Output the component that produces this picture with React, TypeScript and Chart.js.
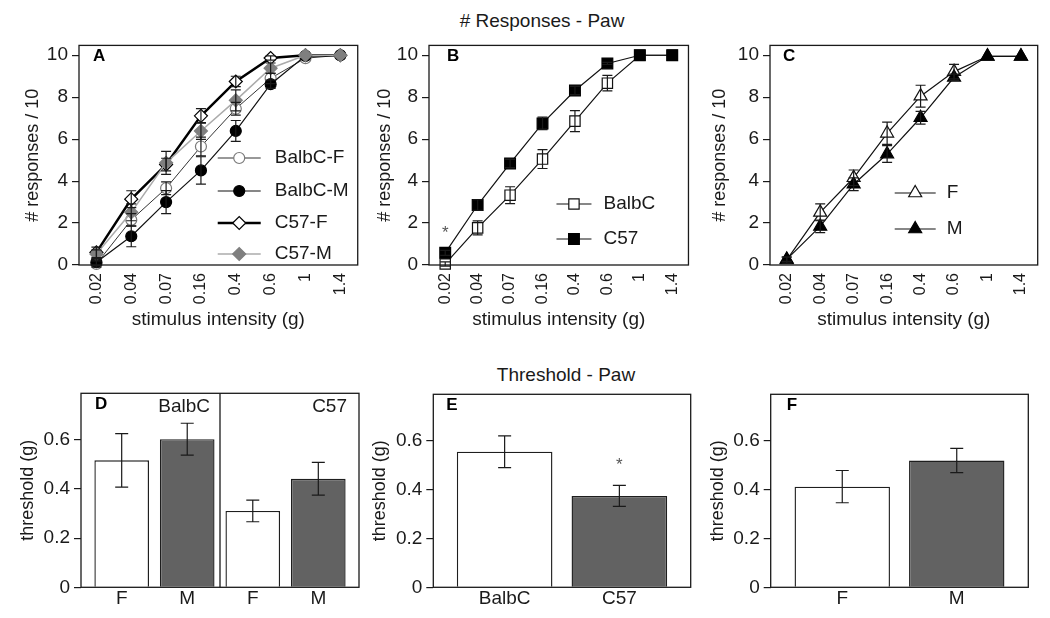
import React, { useEffect, useRef } from "react";
import { Chart, registerables } from "chart.js";
import { drawPoint } from "chart.js/helpers";

Chart.register(...registerables);

const FONT_FAMILY = '"Liberation Sans", Arial, Helvetica, sans-serif';
const INK = "#1a1a1a";
const BAR_GRAY = "#626262";
Chart.defaults.font.family = FONT_FAMILY;
Chart.defaults.color = INK;

// ---------------- data ----------------
const topTitle = "# Responses - Paw";
const bottomTitle = "Threshold - Paw";
const intensities = ["0.02", "0.04", "0.07", "0.16", "0.4", "0.6", "1", "1.4"];

// Panel A
const balbcF = [0.05, 2.15, 3.66, 5.65, 7.45, 8.9, 9.86, 10];
const balbcFErr = [0.15, 0.3, 0.3, 0.45, 0.3, 0.25, 0, 0];
const balbcM = [0.13, 1.37, 3.0, 4.51, 6.39, 8.62, 9.97, 10];
const balbcMErr = [0.15, 0.5, 0.55, 0.65, 0.5, 0.2, 0, 0];
const c57F = [0.6, 3.14, 4.79, 7.11, 8.75, 9.87, 10, 10];
const c57FErr = [0.25, 0.4, 0.3, 0.35, 0.25, 0.1, 0, 0];
const c57M = [0.52, 2.51, 4.87, 6.39, 7.85, 9.38, 10, 10];
const c57MErr = [0.2, 0.4, 0.55, 0.4, 0.5, 0.25, 0, 0];

// Panel B
const strainBalbC = [0.05, 1.77, 3.33, 5.05, 6.86, 8.67, 10, 10];
const strainBalbCErr = [0.1, 0.33, 0.4, 0.45, 0.5, 0.37, 0, 0];
const strainC57 = [0.58, 2.86, 4.84, 6.75, 8.32, 9.61, 10, 10];
const strainC57Err = [0.12, 0.25, 0.2, 0.3, 0.2, 0.05, 0, 0];
const starsB = [{ category: "0.02", value: 1.7 }];

// Panel C
const sexF = [0.24, 2.51, 4.16, 6.28, 8.05, 9.22, 9.95, 9.95];
const sexFErr = [0.15, 0.4, 0.37, 0.53, 0.52, 0.35, 0, 0];
const sexM = [0.27, 1.84, 3.85, 5.29, 7.02, 8.95, 9.95, 9.95];
const sexMErr = [0.1, 0.3, 0.3, 0.4, 0.3, 0.15, 0, 0];

// Panel D
const dCats = ["F", "M", "F", "M"];
const dGroups = ["BalbC", "C57"];
const dValues = [0.517, 0.603, 0.311, 0.442];
const dErr = [0.109, 0.065, 0.044, 0.067];

// Panel E
const eCats = ["BalbC", "C57"];
const eValues = [0.555, 0.374];
const eErr = [0.065, 0.043];
const starsE = [{ category: "C57", value: 0.514 }];

// Panel F
const fCats = ["F", "M"];
const fValues = [0.412, 0.519];
const fErr = [0.066, 0.05];

// R barplot midpoints (width 1, space 0.2)
const barMid = (i: number) => 0.7 + 1.2 * i;

// ---------------- plugins ----------------
const errorBarsPlugin = {
  id: "errorBars",
  afterDatasetsDraw(chart: any) {
    const { ctx } = chart;
    const yScale = chart.scales.y;
    chart.data.datasets.forEach((ds: any, di: number) => {
      if (!ds.errors) return;
      const meta = chart.getDatasetMeta(di);
      ctx.save();
      ctx.strokeStyle = ds.errorColor || "#111";
      ctx.lineWidth = ds.errorWidth || 1.2;
      const cap = ds.errorCap || 5;
      meta.data.forEach((el: any, i: number) => {
        const e = ds.errors[i];
        if (!e) return;
        const raw = ds.data[i];
        const v = typeof raw === "number" ? raw : raw.y;
        const x = el.x;
        const yt = yScale.getPixelForValue(v + e);
        const yb = yScale.getPixelForValue(v - e);
        ctx.beginPath();
        ctx.moveTo(x, yt);
        ctx.lineTo(x, yb);
        ctx.moveTo(x - cap, yt);
        ctx.lineTo(x + cap, yt);
        ctx.moveTo(x - cap, yb);
        ctx.lineTo(x + cap, yb);
        ctx.stroke();
      });
      ctx.restore();
    });
  },
};

type Decor = {
  letter: string;
  letterDx: number;
  legend?: { x1: number; x2: number; tx: number; rows: number[] };
  divider?: number;
  groupLabels?: { text: string; atValue?: number; gap: number }[];
  stars?: { x: number; y: number }[];
};

function makeDecor(d: Decor) {
  return {
    id: "decor",
    afterDraw(chart: any) {
      const { ctx, chartArea: ca } = chart;
      const xs = chart.scales.x;
      const ys = chart.scales.y;
      ctx.save();
      ctx.strokeStyle = INK;
      ctx.lineWidth = 1.3;
      if (d.divider !== undefined) {
        const px = xs.getPixelForValue(d.divider);
        ctx.beginPath();
        ctx.moveTo(px, ca.top);
        ctx.lineTo(px, ca.bottom);
        ctx.stroke();
      }
      ctx.strokeRect(ca.left, ca.top, ca.right - ca.left, ca.bottom - ca.top);

      ctx.fillStyle = "#000";
      ctx.font = `bold 17px ${FONT_FAMILY}`;
      ctx.textAlign = "left";
      ctx.textBaseline = "alphabetic";
      ctx.fillText(d.letter, ca.left + d.letterDx, ca.top + 15.5);

      ctx.font = `19px ${FONT_FAMILY}`;
      ctx.fillStyle = INK;
      (d.groupLabels || []).forEach((g) => {
        const xr = g.atValue !== undefined ? xs.getPixelForValue(g.atValue) : ca.right;
        ctx.textAlign = "right";
        ctx.textBaseline = "alphabetic";
        ctx.fillText(g.text, xr - g.gap, ca.top + 18.5);
      });

      (d.stars || []).forEach((s) => {
        ctx.font = `17px ${FONT_FAMILY}`;
        ctx.fillStyle = "#555";
        ctx.textAlign = "center";
        ctx.textBaseline = "middle";
        ctx.fillText("*", xs.getPixelForValue(s.x), ys.getPixelForValue(s.y) + 4);
      });

      if (d.legend) {
        const L = d.legend;
        chart.data.datasets.forEach((ds: any, i: number) => {
          const y = ca.bottom + L.rows[i];
          const x1 = ca.right + L.x1;
          const x2 = ca.right + L.x2;
          ctx.strokeStyle = ds.borderColor;
          ctx.lineWidth = ds.borderWidth;
          ctx.beginPath();
          ctx.moveTo(x1, y);
          ctx.lineTo(x2, y);
          ctx.stroke();
          ctx.fillStyle = ds.pointBackgroundColor;
          ctx.strokeStyle = ds.pointBorderColor;
          ctx.lineWidth = ds.pointBorderWidth;
          drawPoint(
            ctx,
            { pointStyle: ds.pointStyle, radius: ds.pointRadius, rotation: 0, borderWidth: ds.pointBorderWidth } as any,
            (x1 + x2) / 2,
            y
          );
          ctx.fillStyle = INK;
          ctx.font = `19px ${FONT_FAMILY}`;
          ctx.textAlign = "left";
          ctx.textBaseline = "middle";
          ctx.fillText(ds.label, ca.right + L.tx, y);
        });
      }
      ctx.restore();
    },
  };
}

// ---------------- config builders ----------------
const tickFont = { size: 19, family: FONT_FAMILY };
const xTitleFont = { size: 19, family: FONT_FAMILY };
const yTitleFont = { size: 18, family: FONT_FAMILY };

function lineSeries(
  label: string,
  data: number[],
  errors: number[],
  style: { line: string; lw: number; ps: string; r: number; fill: string; stroke: string },
  order: number
) {
  return {
    label,
    data,
    errors,
    errorColor: "#1a1a1a",
    errorCap: 5,
    order,
    clip: false,
    tension: 0,
    borderColor: style.line,
    borderWidth: style.lw,
    pointStyle: style.ps,
    pointRadius: style.r,
    pointBackgroundColor: style.fill,
    pointBorderColor: style.stroke,
    pointBorderWidth: 1.2,
  };
}

function lineConfig(opts: {
  datasets: any[];
  yWidth: number;
  padRight: number;
  yTitlePad: number;
  decor: Decor;
}) {
  return {
    type: "line",
    data: { labels: intensities, datasets: opts.datasets },
    options: {
      responsive: false,
      animation: false,
      events: [],
      layout: { padding: { top: 13, right: opts.padRight, left: 0, bottom: 0 } },
      plugins: { legend: { display: false }, tooltip: { enabled: false } },
      scales: {
        x: {
          type: "category",
          offset: true,
          grid: { display: false, drawTicks: false },
          border: { display: false },
          ticks: {
            autoSkip: false,
            minRotation: 90,
            maxRotation: 90,
            padding: 8,
            color: INK,
            font: { size: 16, family: FONT_FAMILY },
          },
          title: {
            display: true,
            text: "stimulus intensity (g)",
            color: INK,
            font: xTitleFont,
            padding: { top: 0, bottom: 9 },
          },
          afterFit: (s: any) => {
            s.height = 75;
          },
        },
        y: {
          min: 0,
          max: 10.47,
          ticks: { stepSize: 2, includeBounds: false, padding: 4, color: INK, font: tickFont },
          grid: {
            display: true,
            drawOnChartArea: false,
            drawTicks: true,
            tickLength: 7,
            color: INK,
            lineWidth: 1.2,
          },
          border: { display: false },
          title: {
            display: true,
            text: "# responses / 10",
            color: INK,
            font: yTitleFont,
            padding: { top: opts.yTitlePad, bottom: 0 },
          },
          afterFit: (s: any) => {
            s.width = opts.yWidth;
          },
        },
      },
    },
    plugins: [errorBarsPlugin, makeDecor(opts.decor)],
  };
}

function barConfig(opts: {
  cats: string[];
  values: number[];
  errs: number[];
  colors: string[];
  xMin: number;
  xMax: number;
  yWidth: number;
  padTop: number;
  padRight: number;
  yTitlePad: number;
  decor: Decor;
}) {
  const positions = opts.cats.map((_, i) => barMid(i));
  return {
    type: "bar",
    data: {
      datasets: [
        {
          label: "threshold",
          data: opts.values.map((v, i) => ({ x: positions[i], y: v })),
          errors: opts.errs,
          errorColor: "#1a1a1a",
          errorCap: 6.5,
          backgroundColor: opts.colors,
          borderColor: "#1e1e1e",
          borderWidth: 1.4,
          barPercentage: 1 / 1.2,
          categoryPercentage: 1,
        },
      ],
    },
    options: {
      responsive: false,
      animation: false,
      events: [],
      layout: { padding: { top: opts.padTop, right: opts.padRight, left: 0, bottom: 0 } },
      plugins: { legend: { display: false }, tooltip: { enabled: false } },
      scales: {
        x: {
          type: "linear",
          offset: false,
          min: opts.xMin,
          max: opts.xMax,
          afterBuildTicks: (s: any) => {
            s.ticks = positions.map((v) => ({ value: v }));
          },
          grid: { display: false, drawTicks: false },
          border: { display: false },
          ticks: {
            autoSkip: false,
            maxRotation: 0,
            minRotation: 0,
            padding: 0,
            color: INK,
            font: tickFont,
            callback: (_v: any, i: number) => opts.cats[i],
          },
          afterFit: (s: any) => {
            s.height = 30.7;
          },
        },
        y: {
          min: 0,
          max: 0.79,
          ticks: { stepSize: 0.2, includeBounds: false, padding: 4, color: INK, font: tickFont },
          grid: {
            display: true,
            drawOnChartArea: false,
            drawTicks: true,
            tickLength: 7,
            color: INK,
            lineWidth: 1.2,
          },
          border: { display: false },
          title: {
            display: true,
            text: "threshold (g)",
            color: INK,
            font: yTitleFont,
            padding: { top: opts.yTitlePad, bottom: 0 },
          },
          afterFit: (s: any) => {
            s.width = opts.yWidth;
          },
        },
      },
    },
    plugins: [errorBarsPlugin, makeDecor(opts.decor)],
  };
}

// ---------------- panels ----------------
const buildA = () =>
  lineConfig({
    datasets: [
      lineSeries("BalbC-F", balbcF, balbcFErr, { line: "#333", lw: 1, ps: "circle", r: 5.5, fill: "#fff", stroke: "#7a7a7a" }, 3),
      lineSeries("BalbC-M", balbcM, balbcMErr, { line: "#111", lw: 1.2, ps: "circle", r: 5.5, fill: "#000", stroke: "#000" }, 2),
      lineSeries("C57-F", c57F, c57FErr, { line: "#000", lw: 2.5, ps: "rectRot", r: 6.5, fill: "#fff", stroke: "#000" }, 1),
      lineSeries("C57-M", c57M, c57MErr, { line: "#ababab", lw: 1.5, ps: "rectRot", r: 6.5, fill: "#7f7f7f", stroke: "#7f7f7f" }, 0),
    ],
    yWidth: 79,
    padRight: 8,
    yTitlePad: 22,
    decor: { letter: "A", letterDx: 14, legend: { x1: -140, x2: -97, tx: -83, rows: [-107, -74, -42, -11] } },
  });

const buildB = () =>
  lineConfig({
    datasets: [
      lineSeries("BalbC", strainBalbC, strainBalbCErr, { line: "#111", lw: 1.2, ps: "rect", r: 7.3, fill: "#fff", stroke: "#111" }, 1),
      lineSeries("C57", strainC57, strainC57Err, { line: "#111", lw: 1.2, ps: "rect", r: 7.6, fill: "#000", stroke: "#000" }, 0),
    ],
    yWidth: 61,
    padRight: 8.3,
    yTitlePad: 6,
    decor: {
      letter: "B",
      letterDx: 18,
      legend: { x1: -132, x2: -97, tx: -85, rows: [-61, -26] },
      stars: starsB.map((s) => ({ x: intensities.indexOf(s.category), y: s.value })),
    },
  });

const buildC = () =>
  lineConfig({
    datasets: [
      lineSeries("F", sexF, sexFErr, { line: "#111", lw: 1.2, ps: "triangle", r: 7.5, fill: "#fff", stroke: "#111" }, 1),
      lineSeries("M", sexM, sexMErr, { line: "#111", lw: 1.2, ps: "triangle", r: 7.5, fill: "#000", stroke: "#000" }, 0),
    ],
    yWidth: 70,
    padRight: 12.3,
    yTitlePad: 9,
    decor: { letter: "C", letterDx: 13, legend: { x1: -143, x2: -102, tx: -91, rows: [-72, -36] } },
  });

const buildD = () =>
  barConfig({
    cats: dCats,
    values: dValues,
    errs: dErr,
    colors: ["#ffffff", BAR_GRAY, "#ffffff", BAR_GRAY],
    xMin: -0.045,
    xMax: 5.045,
    yWidth: 81,
    padTop: 53.3,
    padRight: 9,
    yTitlePad: 17,
    decor: {
      letter: "D",
      letterDx: 14,
      divider: 2.5,
      groupLabels: [
        { text: dGroups[0], atValue: 2.5, gap: 10 },
        { text: dGroups[1], gap: 12 },
      ],
    },
  });

const buildE = () =>
  barConfig({
    cats: eCats,
    values: eValues,
    errs: eErr,
    colors: ["#ffffff", BAR_GRAY],
    xMin: -0.046,
    xMax: 2.646,
    yWidth: 65.3,
    padTop: 54.3,
    padRight: 9.3,
    yTitlePad: 1,
    decor: {
      letter: "E",
      letterDx: 13,
      stars: starsE.map((s) => ({ x: barMid(eCats.indexOf(s.category)), y: s.value })),
    },
  });

const buildF = () =>
  barConfig({
    cats: fCats,
    values: fValues,
    errs: fErr,
    colors: ["#ffffff", BAR_GRAY],
    xMin: -0.05,
    xMax: 2.65,
    yWidth: 70.7,
    padTop: 54.3,
    padRight: 21.7,
    yTitlePad: 7,
    decor: { letter: "F", letterDx: 16 },
  });

// ---------------- components ----------------
function ChartBox(props: { left: number; top: number; width: number; height: number; build: () => any }) {
  const { left, top, width, height, build } = props;
  const ref = useRef<HTMLCanvasElement | null>(null);
  useEffect(() => {
    if (!ref.current) return;
    const chart = new Chart(ref.current, build());
    return () => chart.destroy();
  }, [build]);
  return (
    <canvas
      ref={ref}
      width={width}
      height={height}
      style={{ position: "absolute", left, top, width, height, display: "block" }}
    />
  );
}

export default function App() {
  return (
    <div
      style={{
        position: "absolute",
        left: 0,
        top: 0,
        width: 1050,
        height: 618,
        background: "#ffffff",
        fontFamily: FONT_FAMILY,
        color: INK,
        overflow: "hidden",
      }}
    >
      <div style={{ position: "absolute", left: 392, top: 10, width: 300, textAlign: "center", fontSize: 19, lineHeight: "22px" }}>
        {topTitle}
      </div>
      <div style={{ position: "absolute", left: 416, top: 364, width: 300, textAlign: "center", fontSize: 19, lineHeight: "22px" }}>
        {bottomTitle}
      </div>
      <ChartBox left={0} top={30} width={368} height={310} build={buildA} />
      <ChartBox left={368} top={30} width={332} height={310} build={buildB} />
      <ChartBox left={700} top={30} width={350} height={310} build={buildC} />
      <ChartBox left={0} top={340} width={368} height={278} build={buildD} />
      <ChartBox left={368} top={340} width={332} height={278} build={buildE} />
      <ChartBox left={700} top={340} width={350} height={278} build={buildF} />
    </div>
  );
}
